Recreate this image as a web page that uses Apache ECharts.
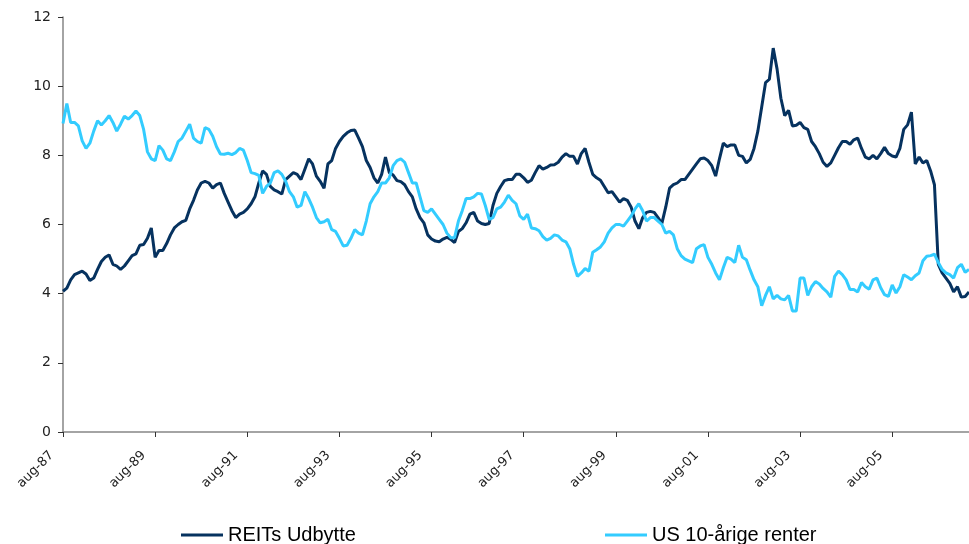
<!DOCTYPE html>
<html>
<head>
<meta charset="utf-8">
<script src="https://cdn.jsdelivr.net/npm/echarts@6.0.0/dist/echarts.min.js"></script>
<style>
    html, body {margin: 0; padding: 0; background: #fff;}
    #myChart {width: 969px; height: 544px;}
</style>
</head>
<body>
<div id="myChart"></div>
<script>
// månedlige data, aug-87 .. apr-07
var monthNames = ['jan', 'feb', 'mar', 'apr', 'maj', 'jun', 'jul', 'aug', 'sep', 'okt', 'nov', 'dec'];
var startYear = 1987, startMonth = 7, monthCount = 237;

var reitsUdbytte = [
    4.07, 4.16, 4.4, 4.55, 4.6, 4.65, 4.57, 4.38, 4.45, 4.7, 4.93, 5.05, 5.12, 4.85, 4.8, 4.7, 4.8, 4.95, 5.1, 5.15,
    5.4, 5.42, 5.6, 5.9, 5.05, 5.25, 5.25, 5.45, 5.7, 5.9, 6.0, 6.08, 6.12, 6.45, 6.7, 7.0, 7.2, 7.25, 7.2, 7.05,
    7.15, 7.2, 6.9, 6.65, 6.4, 6.2, 6.3, 6.35, 6.45, 6.6, 6.8, 7.2, 7.55, 7.45, 7.1, 7.0, 6.95, 6.88, 7.3, 7.4,
    7.5, 7.45, 7.3, 7.6, 7.9, 7.75, 7.4, 7.25, 7.05, 7.75, 7.85, 8.2, 8.4, 8.55, 8.65, 8.72, 8.73, 8.5, 8.25, 7.85,
    7.65, 7.35, 7.2, 7.45, 7.95, 7.5, 7.43, 7.27, 7.24, 7.15, 6.95, 6.8, 6.45, 6.2, 6.05, 5.7, 5.58, 5.52, 5.5, 5.58,
    5.63, 5.57, 5.48, 5.8, 5.88, 6.05, 6.3, 6.35, 6.1, 6.03, 6.0, 6.03, 6.55, 6.9, 7.1, 7.27, 7.3, 7.3, 7.45, 7.45,
    7.35, 7.22, 7.28, 7.5, 7.7, 7.6, 7.65, 7.72, 7.73, 7.8, 7.95, 8.05, 7.97, 7.97, 7.75, 8.05, 8.2, 7.8, 7.45, 7.35,
    7.28, 7.1, 6.92, 6.95, 6.8, 6.65, 6.75, 6.7, 6.5, 6.1, 5.88, 6.2, 6.35, 6.38, 6.35, 6.2, 6.03, 6.5, 7.05, 7.15,
    7.2, 7.3, 7.3, 7.45, 7.6, 7.75, 7.9, 7.92, 7.85, 7.7, 7.4, 7.9, 8.35, 8.25, 8.3, 8.3, 8.0, 7.97, 7.78, 7.88,
    8.2, 8.7, 9.4, 10.1, 10.2, 11.1, 10.5, 9.65, 9.15, 9.3, 8.85, 8.87, 8.95, 8.8, 8.75, 8.4, 8.25, 8.05, 7.8, 7.68,
    7.78, 8.0, 8.22, 8.4, 8.4, 8.32, 8.45, 8.5, 8.2, 7.95, 7.9, 8.0, 7.9, 8.05, 8.23, 8.05, 7.98, 7.95, 8.2, 8.75,
    8.88, 9.25, 7.75, 7.95, 7.78, 7.85, 7.55, 7.15, 4.85, 4.6, 4.45, 4.3, 4.05, 4.2, 3.9, 3.92, 4.05
];

var usRenter = [
    8.92, 9.5, 8.95, 8.95, 8.85, 8.42, 8.2, 8.35, 8.7, 9.0, 8.88, 9.0, 9.15, 8.95, 8.7, 8.9, 9.13, 9.05, 9.15, 9.28,
    9.15, 8.75, 8.1, 7.9, 7.85, 8.28, 8.15, 7.9, 7.85, 8.1, 8.4, 8.5, 8.7, 8.9, 8.5, 8.4, 8.35, 8.8, 8.75, 8.55,
    8.25, 8.04, 8.03, 8.06, 8.02, 8.08, 8.2, 8.15, 7.85, 7.5, 7.47, 7.42, 6.9, 7.1, 7.2, 7.5, 7.55, 7.45, 7.25, 6.95,
    6.8, 6.5, 6.55, 6.95, 6.75, 6.5, 6.2, 6.05, 6.08, 6.15, 5.85, 5.8, 5.6, 5.38, 5.4, 5.6, 5.85, 5.75, 5.7, 6.1,
    6.6, 6.8, 6.95, 7.2, 7.2, 7.35, 7.7, 7.85, 7.9, 7.8, 7.5, 7.2, 7.2, 6.8, 6.4, 6.35, 6.45, 6.3, 6.15, 6.0,
    5.75, 5.62, 5.62, 6.1, 6.4, 6.75, 6.75, 6.8, 6.9, 6.88, 6.55, 6.15, 6.2, 6.45, 6.5, 6.65, 6.85, 6.7, 6.6, 6.25,
    6.15, 6.3, 5.9, 5.88, 5.82, 5.65, 5.55, 5.6, 5.7, 5.67, 5.55, 5.5, 5.3, 4.85, 4.5, 4.6, 4.73, 4.65, 5.2, 5.27,
    5.35, 5.5, 5.75, 5.9, 6.0, 6.0, 5.95, 6.1, 6.25, 6.45, 6.6, 6.4, 6.1, 6.2, 6.2, 6.1, 6.0, 5.75, 5.8, 5.7,
    5.3, 5.1, 5.0, 4.95, 4.9, 5.3, 5.38, 5.42, 5.05, 4.85, 4.6, 4.4, 4.75, 5.05, 5.0, 4.9, 5.4, 5.05, 4.98, 4.68,
    4.4, 4.2, 3.65, 3.95, 4.2, 3.85, 3.95, 3.85, 3.82, 3.95, 3.5, 3.5, 4.45, 4.45, 3.95, 4.2, 4.35, 4.28, 4.15, 4.05,
    3.9, 4.5, 4.65, 4.55, 4.4, 4.12, 4.12, 4.05, 4.32, 4.2, 4.13, 4.4, 4.45, 4.17, 3.97, 3.92, 4.25, 4.02, 4.2, 4.55,
    4.48, 4.4, 4.52, 4.6, 4.95, 5.08, 5.1, 5.14, 4.9, 4.7, 4.6, 4.55, 4.45, 4.75, 4.85, 4.62, 4.7
];

// kategorier: "aug-87", "sep-87", ...
var categories = [];
for (var i = 0; i < monthCount; i++) {
    var m = (startMonth + i) % 12;
    var y = (startYear + Math.floor((startMonth + i) / 12)) % 100;
    categories.push(monthNames[m] + '-' + (y < 10 ? '0' + y : y));
}

var myChart = echarts.init(document.getElementById('myChart'));

var axisGray = '#868686';
var labelFont = 'DejaVu Sans';

var option = {
    animation: false,
    grid: {
        left: 63,
        right: 0,
        top: 17,
        bottom: 112
    },
    legend: [
        {
            data: ['REITs Udbytte'],
            left: 176,
            top: 520,
            icon: 'rect',
            itemWidth: 42,
            itemHeight: 3,
            textStyle: {fontFamily: 'Liberation Sans', fontSize: 20, color: '#000'}
        },
        {
            data: ['US 10-årige renter'],
            left: 600,
            top: 520,
            icon: 'rect',
            itemWidth: 42,
            itemHeight: 3,
            textStyle: {fontFamily: 'Liberation Sans', fontSize: 20, color: '#000'}
        }
    ],
    xAxis: {
        type: 'category',
        data: categories,
        boundaryGap: false,
        axisLine: {lineStyle: {color: axisGray, width: 1.5}},
        axisTick: {
            interval: 23,
            length: 5,
            lineStyle: {color: '#333'}
        },
        axisLabel: {
            interval: 23,
            rotate: 45,
            margin: 10,
            padding: [0, 16, 0, 0],
            fontFamily: labelFont,
            fontSize: 13,
            color: '#222'
        },
        splitLine: {show: false}
    },
    yAxis: {
        type: 'value',
        min: 0,
        max: 12,
        interval: 2,
        axisLine: {show: true, lineStyle: {color: axisGray, width: 1.5}},
        axisTick: {show: true, length: 5, lineStyle: {color: '#333'}},
        axisLabel: {
            margin: 12,
            fontFamily: labelFont,
            fontSize: 14,
            color: '#222'
        },
        splitLine: {show: false}
    },
    series: [
        {
            name: 'REITs Udbytte',
            type: 'line',
            data: reitsUdbytte,
            showSymbol: false,
            symbol: 'none',
            lineStyle: {color: '#06325F', width: 3},
            itemStyle: {color: '#06325F'}
        },
        {
            name: 'US 10-årige renter',
            type: 'line',
            data: usRenter,
            showSymbol: false,
            symbol: 'none',
            lineStyle: {color: '#33CCFF', width: 3},
            itemStyle: {color: '#33CCFF'}
        }
    ]
};

myChart.setOption(option);
</script>
</body>
</html>
